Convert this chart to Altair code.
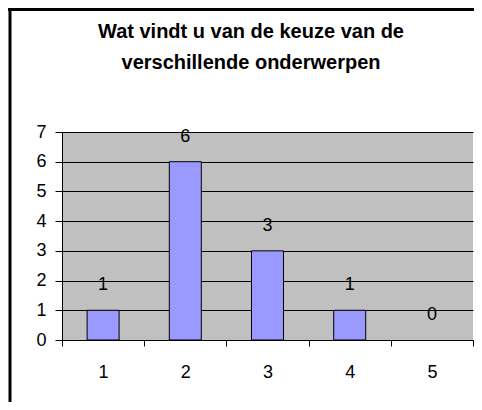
import altair as alt
import pandas as pd

# Data
categories = [1, 2, 3, 4, 5]
values = [1, 6, 3, 1, 0]
y_ticks = [0, 1, 2, 3, 4, 5, 6, 7]
title_lines = ["Wat vindt u van de keuze van de", "verschillende onderwerpen"]

df = pd.DataFrame({"cat": categories, "val": values})

# tick positions at category boundaries plus label positions at categories
x_axis_values = sorted([c - 0.5 for c in categories] + [categories[-1] + 0.5] + categories)

FONT = "Liberation Sans"
LABEL_SIZE = 18

x_enc = alt.X(
    "cat:Q",
    scale=alt.Scale(domain=[0.5, 5.5], nice=False, zero=False, padding=0),
    axis=alt.Axis(
        values=x_axis_values,
        labelExpr="datum.value % 1 == 0 ? '' + datum.value : ''",
        tickOpacity={"condition": {"test": "datum.value % 1 == 0", "value": 0}, "value": 1},
        tickSize=6,
        tickColor="black",
        domainColor="black",
        labelFont=FONT,
        labelFontSize=LABEL_SIZE,
        labelColor="black",
        labelPadding=17,
        labelOverlap=False,
        grid=False,
        title=None,
    ),
)
y_enc = alt.Y(
    "val:Q",
    scale=alt.Scale(domain=[0, 7], nice=False),
    axis=alt.Axis(
        values=y_ticks,
        grid=True,
        gridColor="black",
        gridOpacity=1,
        gridWidth=1,
        tickSize=7,
        tickColor="black",
        domainColor="black",
        labelFont=FONT,
        labelFontSize=LABEL_SIZE,
        labelColor="black",
        labelPadding=9,
        title=None,
    ),
)

base = alt.Chart(df)

bars = base.mark_bar(size=32, color="#9999FF", stroke="black", strokeWidth=1).encode(
    x=x_enc,
    y=y_enc,
    strokeOpacity=alt.condition("datum.val == 0", alt.value(0), alt.value(1)),
)

labels = base.mark_text(
    dy=-20, baseline="alphabetic", font=FONT, fontSize=LABEL_SIZE, color="black"
).encode(x=x_enc, y=y_enc, text="val:Q")

frame_data = alt.Data(values=[{}])
left_border = alt.Chart(frame_data).mark_rule(color="black", strokeWidth=3).encode(
    x=alt.value(-52), y=alt.value(-124), y2=alt.value(270)
)
top_border = alt.Chart(frame_data).mark_rule(color="black", strokeWidth=3).encode(
    x=alt.value(-54), x2=alt.value(412), y=alt.value(-122.5)
)
title = alt.Chart(frame_data).mark_text(
    text=title_lines,
    font=FONT,
    fontSize=20,
    fontWeight="bold",
    color="black",
    align="center",
    baseline="alphabetic",
    lineHeight=31,
).encode(x=alt.value(189), y=alt.value(-94))

chart = (
    alt.layer(bars, labels, left_border, top_border, title)
    .properties(
        width=411,
        height=208,
        autosize=alt.AutoSizeParams(type="none"),
        padding={"left": 54, "top": 124, "right": 1, "bottom": 62},
    )
    .configure(background="white")
    .configure_view(stroke=None, fill="#C0C0C0")
)

chart.save("out.html", embed_options={"renderer": "svg", "actions": False})
